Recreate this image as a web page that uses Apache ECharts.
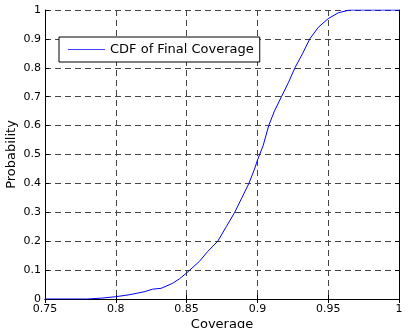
<!DOCTYPE html>
<html>
<head>
<meta charset="utf-8">
<script src="https://cdn.jsdelivr.net/npm/echarts@6/dist/echarts.min.js"></script>
<style>
html, body { margin: 0; padding: 0; background: #fff; }
#chart { width: 408px; height: 328px; }
</style>
</head>
<body>
<div id="chart"></div>
<script>
// 曲线数据 (coverage, probability)
var coverage = [0.75, 0.78, 0.79, 0.80, 0.81, 0.82, 0.826, 0.832, 0.84, 0.845, 0.85, 0.859, 0.865, 0.872,
	0.878, 0.884, 0.889, 0.894, 0.898, 0.90, 0.904, 0.908, 0.912, 0.917, 0.922, 0.9265, 0.932, 0.937,
	0.943, 0.95, 0.957, 0.965, 1.0];
var probability = [0, 0, 0.003, 0.008, 0.015, 0.025, 0.034, 0.037, 0.054, 0.07, 0.09, 0.13, 0.165, 0.20,
	0.25, 0.30, 0.35, 0.40, 0.45, 0.48, 0.53, 0.60, 0.65, 0.70, 0.75, 0.80, 0.85, 0.90,
	0.94, 0.97, 0.99, 1.0, 1.0];
var seriesName = 'CDF of Final Coverage';

var points = [];
for (var i = 0; i < coverage.length; i++) {
	points.push([coverage[i], probability[i]]);
}

var chart = echarts.init(document.getElementById('chart'));
var font = 'DejaVu Sans';
var gridDash = { color: '#444', width: 1, type: [6, 4] };
var frame = { show: true, lineStyle: { color: '#000', width: 1 } };
var tick = { show: true, inside: true, length: 4, lineStyle: { color: '#000' } };

var option = {
	animation: false,
	backgroundColor: '#fff',
	grid: { left: 45, right: 9, top: 10, bottom: 29, outerBoundsMode: 'none', containLabel: false },
	legend: {
		left: 59,
		top: 37,
		padding: [5, 6, 5, 9],
		itemWidth: 37,
		itemHeight: 1,
		itemGap: 8,
		icon: 'rect',
		itemStyle: { color: '#4040ff' },
		backgroundColor: '#fff',
		borderColor: '#000',
		borderWidth: 1,
		borderRadius: 0,
		textStyle: { fontFamily: font, fontSize: 13, color: '#000', lineHeight: 15 },
		data: [seriesName]
	},
	xAxis: [
		{
			type: 'value',
			min: 0.75,
			max: 1,
			interval: 0.05,
			name: 'Coverage',
			nameLocation: 'middle',
			nameGap: 19,
			nameMoveOverlap: false,
			nameTextStyle: { fontFamily: font, fontSize: 13, color: '#000' },
			axisLine: frame,
			axisTick: tick,
			axisLabel: { fontFamily: font, fontSize: 11, color: '#000', margin: 5 },
			splitLine: { show: true, lineStyle: gridDash }
		},
		{
			type: 'value',
			position: 'top',
			min: 0.75,
			max: 1,
			interval: 0.05,
			axisLine: frame,
			axisTick: tick,
			axisLabel: { show: false },
			splitLine: { show: false }
		}
	],
	yAxis: [
		{
			type: 'value',
			min: 0,
			max: 1,
			interval: 0.1,
			name: 'Probability',
			nameLocation: 'middle',
			nameGap: 27,
			nameMoveOverlap: false,
			nameTextStyle: { fontFamily: font, fontSize: 13, color: '#000' },
			axisLine: frame,
			axisTick: tick,
			axisLabel: { fontFamily: font, fontSize: 11, color: '#000', margin: 4 },
			splitLine: { show: true, lineStyle: gridDash }
		},
		{
			type: 'value',
			position: 'right',
			min: 0,
			max: 1,
			interval: 0.1,
			axisLine: frame,
			axisTick: tick,
			axisLabel: { show: false },
			splitLine: { show: false }
		}
	],
	series: [
		{
			name: seriesName,
			type: 'line',
			symbol: 'none',
			smooth: false,
			lineStyle: { color: '#0000ff', width: 1 },
			itemStyle: { color: '#0000ff' },
			data: points
		}
	]
};

chart.setOption(option);
</script>
</body>
</html>
